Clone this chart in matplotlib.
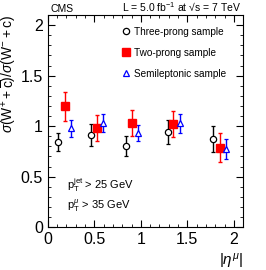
import matplotlib
matplotlib.use("Agg")
import matplotlib.pyplot as plt
from matplotlib.ticker import MultipleLocator

plt.rcParams['font.family'] = ['Liberation Sans', 'DejaVu Sans']
plt.rcParams['mathtext.fontset'] = 'custom'
plt.rcParams['mathtext.rm'] = 'Liberation Sans'
plt.rcParams['mathtext.it'] = 'Liberation Sans:italic'
plt.rcParams['mathtext.sf'] = 'Liberation Sans'

# three-prong sample
x3 = [0.11, 0.46, 0.84, 1.29, 1.78]
y3 = [0.84, 0.91, 0.80, 0.94, 0.87]
e3 = [0.09, 0.11, 0.10, 0.12, 0.13]
# two-prong sample
x2 = [0.18, 0.53, 0.90, 1.35, 1.85]
y2 = [1.195, 0.98, 1.03, 1.02, 0.785]
e2 = [0.14, 0.13, 0.13, 0.13, 0.145]
# semileptonic sample
xs = [0.245, 0.59, 0.97, 1.42, 1.92]
ys = [0.98, 1.03, 0.93, 1.03, 0.77]
es = [0.085, 0.09, 0.08, 0.095, 0.10]

fig = plt.figure(figsize=(2.66, 2.70), dpi=100)
ax = fig.add_axes([0.18, 0.159, 0.734, 0.785])

ax.errorbar(x3, y3, yerr=e3, fmt='o', color='black', mfc='white', mec='black',
            ms=4.5, mew=0.9, elinewidth=1.0, capsize=1.2, label='Three-prong sample')
ax.errorbar(x2, y2, yerr=e2, fmt='s', color='red', mfc='red', mec='red',
            ms=5.5, elinewidth=1.0, capsize=1.2, label='Two-prong sample')
ax.errorbar(xs, ys, yerr=es, fmt='^', color='blue', mfc='white', mec='blue',
            ms=5.0, mew=0.9, elinewidth=1.0, capsize=1.2, label='Semileptonic sample')

ax.set_xlim(0, 2.1)
ax.set_ylim(0, 2.1)
ax.xaxis.set_minor_locator(MultipleLocator(0.1))
ax.yaxis.set_minor_locator(MultipleLocator(0.1))
ax.set_xticks([0, 0.5, 1, 1.5, 2], ['0', '0.5', '1', '1.5', '2'])
ax.set_yticks([0, 0.5, 1, 1.5, 2], ['0', '0.5', '1', '1.5', '2'])
ax.tick_params(which='both', direction='in', top=True, right=True, labelsize=11.5)
ax.tick_params(which='major', length=5)
ax.tick_params(which='minor', length=2.5)

ax.set_ylabel(r'$\sigma(\mathrm{W}^{+} + \overline{\mathrm{c}})/\sigma(\mathrm{W}^{-} + \mathrm{c})$',
              fontsize=10, loc='top', labelpad=2)
ax.set_xlabel(r'$|\eta^{\mu}|$', fontsize=11, loc='right')

# legend without error bars in the handles, like the reference
hs, ls = ax.get_legend_handles_labels()
hs = [h[0] for h in hs]
ax.legend(hs, ls, loc='upper left', frameon=False, fontsize=7.2, handletextpad=0.3,
          handlelength=1.0, labelspacing=1.1, borderpad=0, borderaxespad=0,
          bbox_to_anchor=(0.375, 0.945))

ax.text(0.1, 0.2, r'$\mathrm{p}_{\mathrm{T}}^{\mathrm{jet}}$ > 25 GeV', transform=ax.transAxes,
        fontsize=8, va='center')
ax.text(0.1, 0.1, r'$\mathrm{p}_{\mathrm{T}}^{\mu}$ > 35 GeV', transform=ax.transAxes,
        fontsize=8, va='center')

fig.text(0.19, 0.955, 'CMS', fontsize=7.5, va='baseline')
fig.text(0.905, 0.955, 'L = 5.0 fb$^{-1}$ at \u221as = 7 TeV', fontsize=7.5,
         ha='right', va='baseline')

fig.savefig('out.png', dpi=100)
